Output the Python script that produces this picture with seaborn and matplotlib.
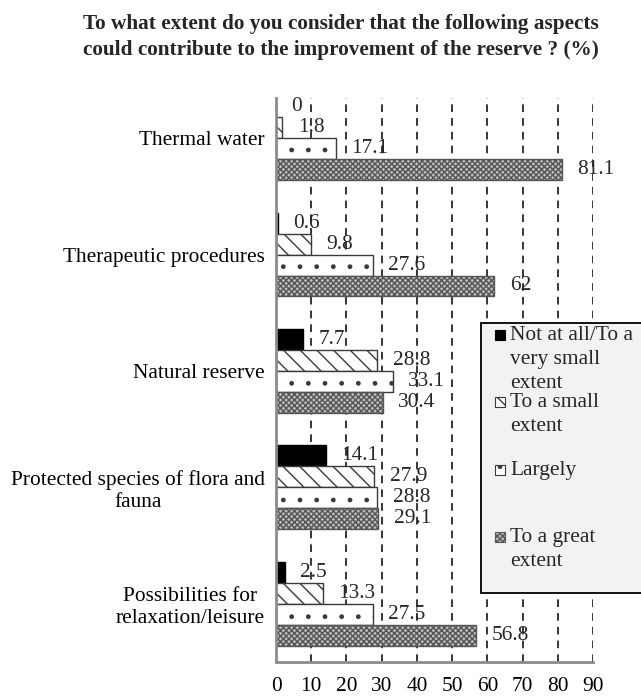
import numpy as np
import pandas as pd
import matplotlib.pyplot as plt
import seaborn as sns
from matplotlib.patches import Rectangle

aspects = ['Thermal water', 'Therapeutic procedures', 'Natural reserve',
           'Protected species of flora and\nfauna', 'Possibilities for\nrelaxation/leisure']
levels = ['Not at all/To a very small extent', 'To a small extent', 'Largely', 'To a great extent']
legend_labels = ['Not at all/To a\nvery small\nextent', 'To a small\nextent', 'Largely', 'To a great\nextent']
not_at_all = [0, 0.6, 7.7, 14.1, 2.5]
small_extent = [1.8, 9.8, 28.8, 27.9, 13.3]
largely = [17.1, 27.6, 33.1, 28.8, 27.5]
great_extent = [81.1, 62, 30.4, 29.1, 56.8]
xticks = [0, 10, 20, 30, 40, 50, 60, 70, 80, 90]

title = ('To what extent do you consider that the following aspects\n'
         'could contribute to the improvement of the reserve ? (%)')

rows = []
for lev, vals in zip(levels, [not_at_all, small_extent, largely, great_extent]):
    for asp, v in zip(aspects, vals):
        rows.append([asp, lev, v])
df = pd.DataFrame(rows, columns=['aspect', 'level', 'value'])

# look of each series (hatch colour follows edgecolor)
styles = [
    dict(face='black', edge='black', hatch=None),
    dict(face='white', edge='#3a3a3a', hatch='\\\\'),
    dict(face='white', edge='#3a3a3a', hatch='.'),
    dict(face='#bdbdbd', edge='#555555', hatch='xxxxxx'),
]

sns.set_theme(style='white')
plt.rcParams['font.family'] = ['Liberation Serif', 'DejaVu Serif']
plt.rcParams['hatch.linewidth'] = 1.0
fs = 15.4

fig = plt.figure(figsize=(6.41, 6.97), dpi=100)
ax = fig.add_axes([276/641, 1-662/697, (593-276)/641, (662-98)/697])

sns.barplot(data=df, x='value', y='aspect', hue='level', orient='h', order=aspects,
            hue_order=levels, width=0.72, saturation=1, legend=False,
            palette=[s['face'] for s in styles], ax=ax)

for cont, st in zip(ax.containers, styles):
    for p in cont:
        p.set_edgecolor(st['edge'])
        p.set_linewidth(1.0)
        if st['hatch']:
            p.set_hatch(st['hatch'])
    ax.bar_label(cont, fmt='%g', padding=11, fontsize=fs)

ax.set_xlim(0, 90)
ax.set_ylim(4.5, -0.345)
ax.set_xticks(xticks)
ax.set_xlabel('')
ax.set_ylabel('')
ax.tick_params(axis='x', length=0, pad=11, labelsize=fs, colors='black')
ax.tick_params(axis='y', length=0, pad=8, labelsize=fs, colors='black')
for lab in ax.get_yticklabels():
    lab.set_multialignment('center')

ax.set_axisbelow(True)
ax.grid(axis='x', color='black', linestyle=(0, (5, 4)), linewidth=1.1)
ax.grid(axis='y', visible=False)
for side in ['top', 'right']:
    ax.spines[side].set_visible(False)
for side in ['left', 'bottom']:
    ax.spines[side].set_color('#8c8c8c')
    ax.spines[side].set_linewidth(2)

fig.text(341/641, 1-37/697, title, ha='center', va='center', fontsize=15.3,
         fontweight='bold', linespacing=1.4)

# legend box, drawn by hand so the markers sit on the first text line
fig.add_artist(Rectangle((481/641, 1-593/697), 0.4, (593-323)/697, transform=fig.transFigure,
                         facecolor='#f2f2f2', edgecolor='black', linewidth=1.3))
first_line_y = [335, 402, 470, 537]
for st, lab, yc in zip(styles, legend_labels, first_line_y):
    fig.add_artist(Rectangle((495/641, 1-(yc+5)/697), 10/641, 10/697, transform=fig.transFigure,
                             facecolor=st['face'], edgecolor=st['edge'], linewidth=0.8,
                             hatch=st['hatch']))
    fig.text(510/641, 1-(yc-9)/697, lab, ha='left', va='top', fontsize=fs, linespacing=1.34)

fig.savefig('out.png', dpi=100)
